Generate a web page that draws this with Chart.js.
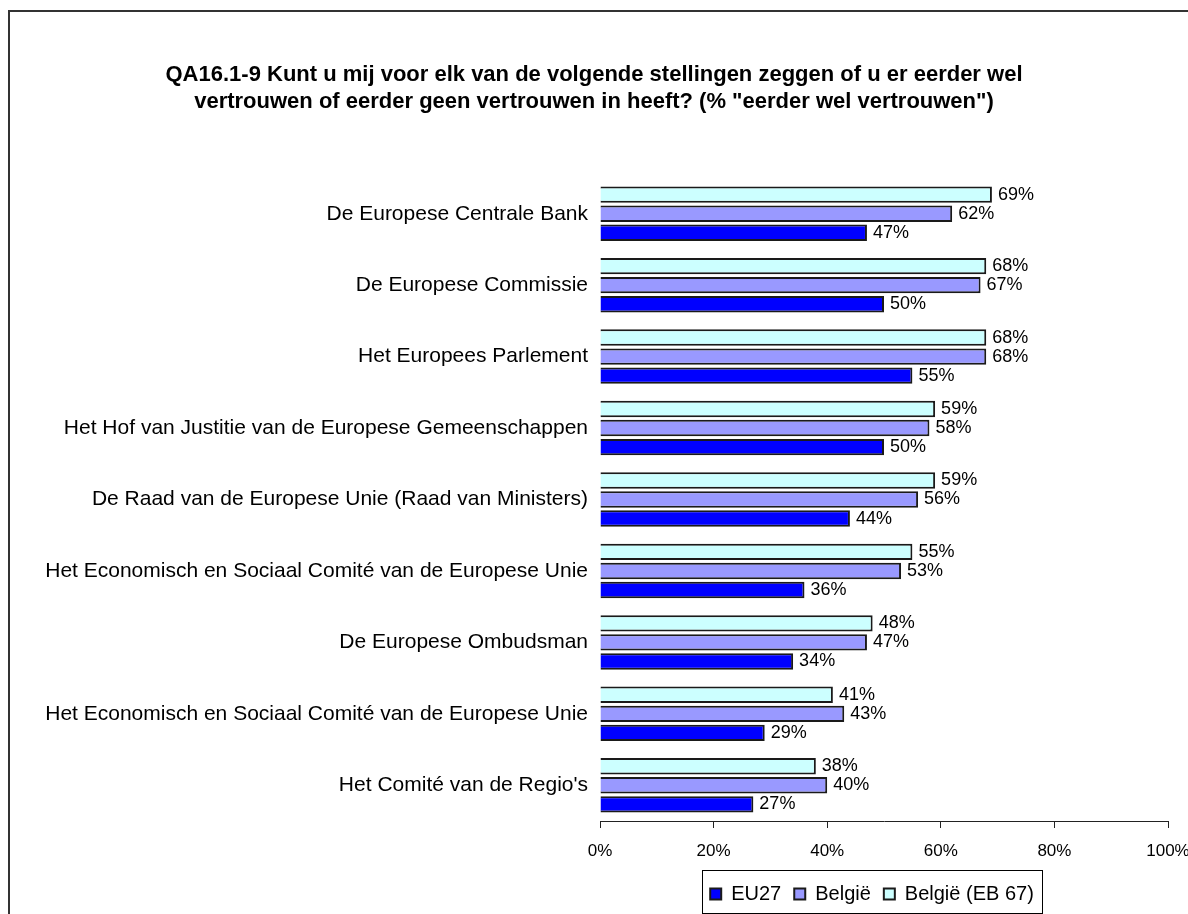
<!DOCTYPE html>
<html>
<head>
<meta charset="utf-8">
<script src="https://cdn.jsdelivr.net/npm/chart.js@4/dist/chart.umd.min.js"></script>
<style>
  html, body { margin: 0; padding: 0; background: #fff; }
  #wrap { position: relative; width: 1188px; height: 914px; }
</style>
</head>
<body>
<div id="wrap"><canvas id="vertrouwenChart" width="1188" height="914"></canvas></div>
<script>
// Categorieën (instellingen)
const categories = [
    'De Europese Centrale Bank',
    'De Europese Commissie',
    'Het Europees Parlement',
    'Het Hof van Justitie van de Europese Gemeenschappen',
    'De Raad van de Europese Unie (Raad van Ministers)',
    'Het Economisch en Sociaal Comité van de Europese Unie',
    'De Europese Ombudsman',
    'Het Economisch en Sociaal Comité van de Europese Unie',
    "Het Comité van de Regio's"
];

// Reeksen (% "eerder wel vertrouwen")
const belgieEB67 = [69, 68, 68, 59, 59, 55, 48, 41, 38];
const belgie = [62, 67, 68, 58, 56, 53, 47, 43, 40];
const eu27 = [47, 50, 55, 50, 44, 36, 34, 29, 27];

// As-labels
const xTicks = [0, 20, 40, 60, 80, 100];

const titleLines = [
    'QA16.1-9 Kunt u mij voor elk van de volgende stellingen zeggen of u er eerder wel',
    'vertrouwen of eerder geen vertrouwen in heeft? (% "eerder wel vertrouwen")'
];

const fontFamily = '"Liberation Sans", Arial, Helvetica, sans-serif';

// Kader rond de hele grafiek
const framePlugin = {
    id: 'frame',
    beforeDraw(chart) {
        const ctx = chart.ctx;
        ctx.save();
        ctx.strokeStyle = '#333';
        ctx.lineWidth = 2;
        ctx.strokeRect(9, 11, 1300, 1000);
        ctx.restore();
    }
};

// Waardelabels naast de staven
const valueLabels = {
    id: 'valueLabels',
    afterDatasetsDraw(chart) {
        const ctx = chart.ctx;
        ctx.save();
        ctx.font = '18px ' + fontFamily;
        ctx.fillStyle = '#000';
        ctx.textAlign = 'left';
        ctx.textBaseline = 'middle';
        chart.data.datasets.forEach(function (ds, i) {
            const meta = chart.getDatasetMeta(i);
            meta.data.forEach(function (bar, j) {
                ctx.fillText(ds.data[j] + '%', bar.x + 6, bar.y);
            });
        });
        ctx.restore();
    }
};

// Legende iets naar links schuiven en een rand eromheen tekenen
const legendBox = {
    id: 'legendBox',
    afterLayout(chart) {
        chart.legend.left -= 12;
        chart.legend.right -= 12;
    },
    afterDraw(chart) {
        const boxes = chart.legend.legendHitBoxes;
        if (!boxes || !boxes.length) return;
        const first = boxes[0];
        const last = boxes[boxes.length - 1];
        const left = first.left - 8;
        const right = last.left + last.width + 8;
        const top = first.top - 14;
        const bottom = first.top + first.height + 9;
        const ctx = chart.ctx;
        ctx.save();
        ctx.strokeStyle = '#000';
        ctx.lineWidth = 1;
        ctx.strokeRect(Math.round(left) + 0.5, Math.round(top) + 0.5, Math.round(right - left), Math.round(bottom - top));
        ctx.restore();
    }
};

const ctx = document.getElementById('vertrouwenChart').getContext('2d');

const chart = new Chart(ctx, {
    type: 'bar',
    data: {
        labels: categories,
        datasets: [
            {
                label: 'België (EB 67)',
                data: belgieEB67,
                backgroundColor: '#CCFFFF',
                borderColor: '#1a1a1a',
                borderWidth: 2
            },
            {
                label: 'België',
                data: belgie,
                backgroundColor: '#9999FF',
                borderColor: '#1a1a1a',
                borderWidth: 2
            },
            {
                label: 'EU27',
                data: eu27,
                backgroundColor: '#0000FF',
                borderColor: '#1a1a1a',
                borderWidth: 2
            }
        ]
    },
    options: {
        indexAxis: 'y',
        responsive: false,
        animation: false,
        layout: {
            padding: 0
        },
        datasets: {
            bar: {
                categoryPercentage: 0.8,
                barPercentage: 0.86
            }
        },
        scales: {
            x: {
                min: 0,
                max: 100,
                afterBuildTicks(scale) {
                    scale.ticks = xTicks.map(v => ({ value: v }));
                },
                afterFit(scale) {
                    scale.height = 50;
                    scale.paddingRight = 20;
                },
                grid: {
                    drawOnChartArea: false,
                    drawTicks: true,
                    tickLength: 7,
                    color: '#222'
                },
                border: { display: true, color: '#222', width: 1 },
                ticks: {
                    padding: 13,
                    color: '#000',
                    font: { family: fontFamily, size: 17 },
                    callback: v => v + '%'
                }
            },
            y: {
                grid: { display: false, drawTicks: false },
                border: { display: false },
                ticks: {
                    padding: 12,
                    color: '#000',
                    font: { family: fontFamily, size: 21 }
                },
                afterFit(scale) {
                    scale.width = 600;
                }
            }
        },
        plugins: {
            title: {
                display: true,
                text: titleLines,
                color: '#000',
                font: { family: fontFamily, size: 22, weight: 'bold', lineHeight: 1.25 },
                padding: { top: 61, bottom: 62 }
            },
            legend: {
                display: true,
                position: 'bottom',
                fullSize: false,
                reverse: true,
                labels: {
                    boxWidth: 11,
                    boxHeight: 11,
                    padding: 13,
                    color: '#000',
                    font: { family: fontFamily, size: 20 }
                }
            },
            tooltip: { enabled: false }
        }
    },
    plugins: [framePlugin, valueLabels, legendBox]
});
</script>
</body>
</html>
